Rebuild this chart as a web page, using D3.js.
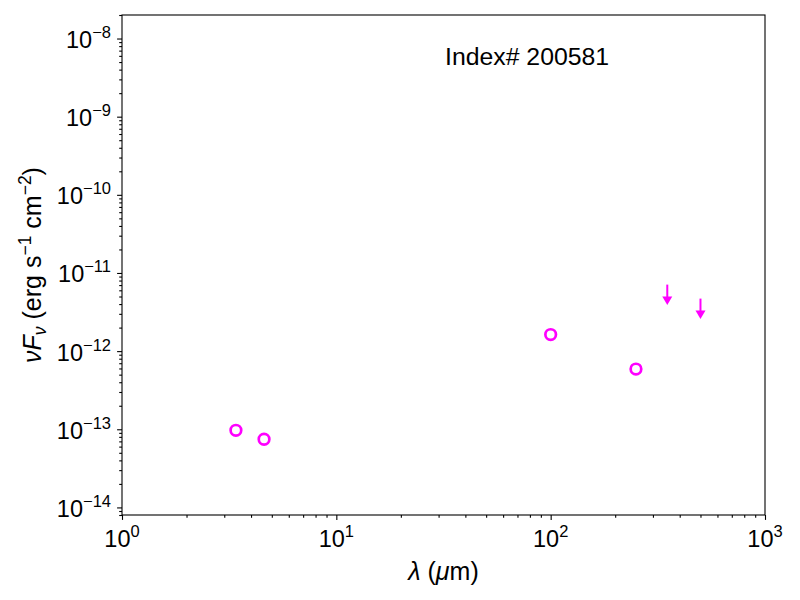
<!DOCTYPE html>
<html>
<head>
<meta charset="utf-8">
<script src="https://cdn.jsdelivr.net/npm/d3@7"></script>
<style>
  body { margin: 0; background: #fff; }
  text { font-family: "Liberation Sans", Arial, Helvetica, sans-serif; }
</style>
</head>
<body>
<div class="canvas"></div>
<script>
// detections (microns, erg s^-1 cm^-2)
const wavelengths = [3.4, 4.6, 100, 250];
const fluxes = [9.7e-14, 7.45e-14, 1.63e-12, 5.9e-13];
// upper limits
const limitWavelengths = [350, 500];
const limitFluxes = [7.1e-12, 4.7e-12];

const xTickExps = [0, 1, 2, 3];
const yTickExps = [-14, -13, -12, -11, -10, -9, -8];
const label = "Index# 200581";

const svg = d3
  .select(".canvas")
  .append("svg")
  .attr("width", 800)
  .attr("height", 600);

// margins and dimensions
const margin = { top: 15, right: 35, bottom: 85, left: 122 };
const graphWidth = 800 - margin.left - margin.right;
const graphHeight = 600 - margin.top - margin.bottom;

const graph = svg
  .append("g")
  .attr("transform", `translate(${margin.left},${margin.top})`);

const x = d3.scaleLog().domain([1, 1000]).range([0, graphWidth]);
const y = d3.scaleLog().domain([8e-15, 2e-8]).range([graphHeight, 0]);

// minor ticks 2..9 in every decade inside the domain
const minor = (scale, exps) => {
  const out = [];
  const [lo, hi] = scale.domain();
  for (let e = exps[0] - 1; e <= exps[exps.length - 1]; e++) {
    for (let m = 2; m < 10; m++) {
      const v = m * Math.pow(10, e);
      if (v >= lo && v <= hi) out.push(v);
    }
  }
  return out;
};

const xMinor = graph.append("g").attr("transform", `translate(0,${graphHeight})`)
  .call(d3.axisBottom(x).tickValues(minor(x, xTickExps)).tickSize(2.8).tickFormat(""));
const yMinor = graph.append("g")
  .call(d3.axisLeft(y).tickValues(minor(y, yTickExps)).tickSize(2.8).tickFormat(""));

const xAxisGroup = graph.append("g").attr("transform", `translate(0,${graphHeight})`)
  .call(d3.axisBottom(x).tickValues(xTickExps.map((e) => Math.pow(10, e))).tickSize(4.9).tickFormat(""));
const yAxisGroup = graph.append("g")
  .call(d3.axisLeft(y).tickValues(yTickExps.map((e) => Math.pow(10, e))).tickSize(4.9).tickFormat(""));

[xMinor, yMinor, xAxisGroup, yAxisGroup].forEach((g) => {
  g.select(".domain").remove();
  g.selectAll("line").attr("stroke", "#000").attr("stroke-width", 1.1);
});

// tick labels as 10^n
xTickExps.forEach((e) => {
  const t = graph.append("text")
    .attr("x", x(Math.pow(10, e)))
    .attr("y", graphHeight + 32)
    .attr("text-anchor", "middle")
    .attr("font-size", 23.5);
  t.append("tspan").text("10");
  t.append("tspan").attr("dy", -10).attr("font-size", 16.5).text(String(e).replace("-", "\u2212"));
});

yTickExps.forEach((e) => {
  const t = graph.append("text")
    .attr("x", -11)
    .attr("y", y(Math.pow(10, e)) + 9.5)
    .attr("text-anchor", "end")
    .attr("font-size", 23.5);
  t.append("tspan").text("10");
  t.append("tspan").attr("dy", -10).attr("font-size", 16.5).text(String(e).replace("-", "\u2212"));
});

// frame
graph.append("rect")
  .attr("width", graphWidth)
  .attr("height", graphHeight)
  .attr("fill", "none")
  .attr("stroke", "#000")
  .attr("stroke-width", 1.1);

// detections
graph.selectAll("circle")
  .data(wavelengths.map((w, i) => ({ w, f: fluxes[i] })))
  .enter()
  .append("circle")
  .attr("cx", (d) => x(d.w))
  .attr("cy", (d) => y(d.f))
  .attr("r", 5.3)
  .attr("fill", "none")
  .attr("stroke", "#ff00ff")
  .attr("stroke-width", 2.7);

// upper limit arrows
const limits = graph.selectAll(".limit")
  .data(limitWavelengths.map((w, i) => ({ w, f: limitFluxes[i] })))
  .enter()
  .append("g")
  .attr("class", "limit")
  .attr("transform", (d) => `translate(${x(d.w)},${y(d.f)})`);
limits.append("line")
  .attr("y1", 0).attr("y2", 13)
  .attr("stroke", "#ff00ff").attr("stroke-width", 2);
limits.append("path")
  .attr("d", "M-5,12L5,12L0,20.5Z")
  .attr("fill", "#ff00ff");

// annotation
graph.append("text")
  .attr("x", 445 - margin.left)
  .attr("y", 65 - margin.top)
  .attr("font-size", 24.8)
  .text(label);

// axis labels
const xl = svg.append("text")
  .attr("x", margin.left + graphWidth / 2)
  .attr("y", 580)
  .attr("text-anchor", "middle")
  .attr("font-size", 25);
xl.append("tspan").attr("font-style", "italic").text("\u03bb");
xl.append("tspan").text(" (");
xl.append("tspan").attr("font-style", "italic").text("\u03bc");
xl.append("tspan").text("m)");

const yl = svg.append("text")
  .attr("transform", `translate(41,${margin.top + graphHeight / 2}) rotate(-90)`)
  .attr("text-anchor", "middle")
  .attr("font-size", 25);
yl.append("tspan").attr("font-style", "italic").text("\u03bdF");
yl.append("tspan").attr("font-style", "italic").attr("font-size", 17.5).attr("dy", 5).text("\u03bd");
yl.append("tspan").attr("dy", -5).text(" (erg s");
yl.append("tspan").attr("font-size", 17.5).attr("dy", -10).text("\u22121");
yl.append("tspan").attr("dy", 10).text(" cm");
yl.append("tspan").attr("font-size", 17.5).attr("dy", -10).text("\u22122");
yl.append("tspan").attr("dy", 10).text(")");
</script>
</body>
</html>
